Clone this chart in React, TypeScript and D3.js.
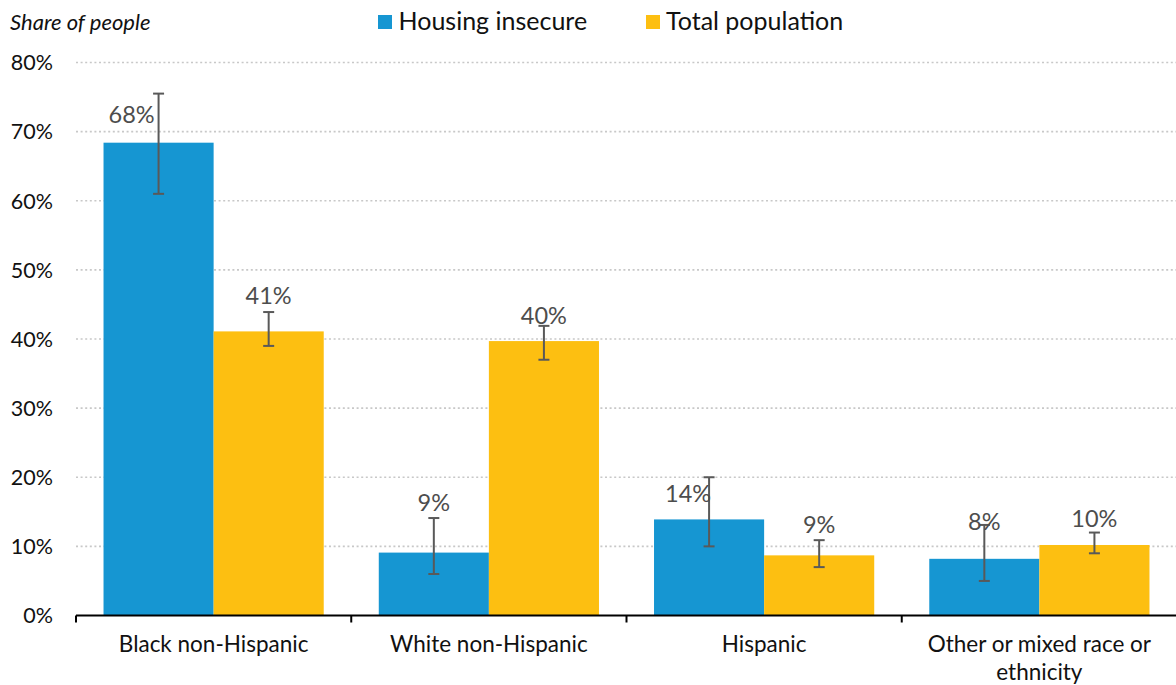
import React from "react";
import * as d3 from "d3";

const categories = ["Black non-Hispanic", "White non-Hispanic", "Hispanic", "Other or mixed race or ethnicity"];
const seriesNames = ["Housing insecure", "Total population"];
const housingInsecure = [68.4, 9.1, 13.9, 8.2];
const housingInsecureLow = [61.0, 6.0, 10.0, 5.0];
const housingInsecureHigh = [75.5, 14.1, 20.0, 13.1];
const totalPopulation = [41.1, 39.7, 8.7, 10.2];
const totalPopulationLow = [39.0, 37.0, 7.0, 9.0];
const totalPopulationHigh = [43.9, 41.9, 10.9, 12.0];
const yTicks = [0, 10, 20, 30, 40, 50, 60, 70, 80];

// style: label offsets (px) relative to bar center / bar top, [group][series]
const labelOffsets = [
  [[-27, -19.5], [0, -27.5]],
  [[0, -41.5], [0, -17]],
  [[-21, -17], [0, -22.5]],
  [[0, -28.5], [0, -18]],
];

const W = 1176;
const H = 685;
const colors = ["#1696d2", "#fdbf11"];
const FONT = "Lato, 'Open Sans', sans-serif";

export default function App() {
  const x0 = d3.scaleBand<string>().domain(categories).range([76, 1177]).paddingInner(0.2).paddingOuter(0.1);
  const x1 = d3.scaleBand<string>().domain(seriesNames).range([0, x0.bandwidth()]);
  const y = d3.scaleLinear().domain([0, 80]).range([615.5, 62.5]);
  const step = x0.step();
  const halfGap = (step - x0.bandwidth()) / 2;

  const series = [
    { name: seriesNames[0], vals: housingInsecure, lo: housingInsecureLow, hi: housingInsecureHigh },
    { name: seriesNames[1], vals: totalPopulation, lo: totalPopulationLow, hi: totalPopulationHigh },
  ];

  const tickXs = categories.map((c) => (x0(c) as number) - halfGap);
  tickXs.push((x0(categories[categories.length - 1]) as number) + x0.bandwidth() + halfGap);

  const wrapLabel = (c: string): string[] =>
    c === "Other or mixed race or ethnicity" ? ["Other or mixed race or", "ethnicity"] : [c];

  return (
    <svg width={W} height={H} style={{ position: "absolute", left: 0, top: 0, background: "#fff" }} fontFamily={FONT}>
      {/* gridlines */}
      {yTicks.slice(1).map((t) => (
        <line key={"g" + t} x1={76} x2={W} y1={y(t)} y2={y(t)} stroke="#c8c8c8" strokeWidth={1.6} strokeDasharray="2 2.6" />
      ))}
      {/* y tick labels */}
      {yTicks.map((t) => (
        <text key={"yt" + t} x={53} y={y(t) + 7.8} textAnchor="end" fontSize={21.5} fill="#111">
          {t + "%"}
        </text>
      ))}
      {/* title */}
      <text x={10} y={30} fontSize={22} fontStyle="italic" fill="#111">Share of people</text>
      {/* legend */}
      <rect x={378} y={15} width={14} height={14} fill={colors[0]} />
      <text x={398.5} y={29.5} fontSize={25} fill="#111">{seriesNames[0]}</text>
      <rect x={646} y={15} width={14} height={14} fill={colors[1]} />
      <text x={666} y={29.5} fontSize={25} fill="#111">{seriesNames[1]}</text>
      {/* bars */}
      {series.map((s, si) =>
        categories.map((c, ci) => {
          const bx = (x0(c) as number) + (x1(s.name) as number);
          const bw = x1.bandwidth();
          return (
            <rect key={"b" + si + ci} x={bx} y={y(s.vals[ci])} width={bw} height={y(0) - y(s.vals[ci])} fill={colors[si]} />
          );
        })
      )}
      {/* error bars */}
      {series.map((s, si) =>
        categories.map((c, ci) => {
          const cx = (x0(c) as number) + (x1(s.name) as number) + x1.bandwidth() / 2;
          const yl = y(s.lo[ci]);
          const yh = y(s.hi[ci]);
          return (
            <g key={"e" + si + ci} stroke="#595959" strokeWidth={2}>
              <line x1={cx} x2={cx} y1={yl} y2={yh} />
              <line x1={cx - 5.5} x2={cx + 5.5} y1={yl} y2={yl} />
              <line x1={cx - 5.5} x2={cx + 5.5} y1={yh} y2={yh} />
            </g>
          );
        })
      )}
      {/* data labels */}
      {series.map((s, si) =>
        categories.map((c, ci) => {
          const cx = (x0(c) as number) + (x1(s.name) as number) + x1.bandwidth() / 2;
          const [dx, dy] = labelOffsets[ci][si];
          return (
            <text key={"l" + si + ci} x={cx + dx} y={y(s.vals[ci]) + dy} textAnchor="middle" fontSize={23.5} fill="#4d4d4d">
              {Math.round(s.vals[ci]) + "%"}
            </text>
          );
        })
      )}
      {/* x axis */}
      <line x1={76} x2={W} y1={615.5} y2={615.5} stroke="#000" strokeWidth={2} />
      {tickXs.map((tx, i) => (
        <line key={"xt" + i} x1={tx} x2={tx} y1={615.5} y2={622.5} stroke="#000" strokeWidth={2} />
      ))}
      {categories.map((c) => {
        const cx = (x0(c) as number) + x0.bandwidth() / 2;
        return (
          <text key={"xl" + c} x={cx} y={652} textAnchor="middle" fontSize={22.5} fill="#111">
            {wrapLabel(c).map((line, li) => (
              <tspan key={li} x={cx} dy={li === 0 ? 0 : 28}>{line}</tspan>
            ))}
          </text>
        );
      })}
    </svg>
  );
}
